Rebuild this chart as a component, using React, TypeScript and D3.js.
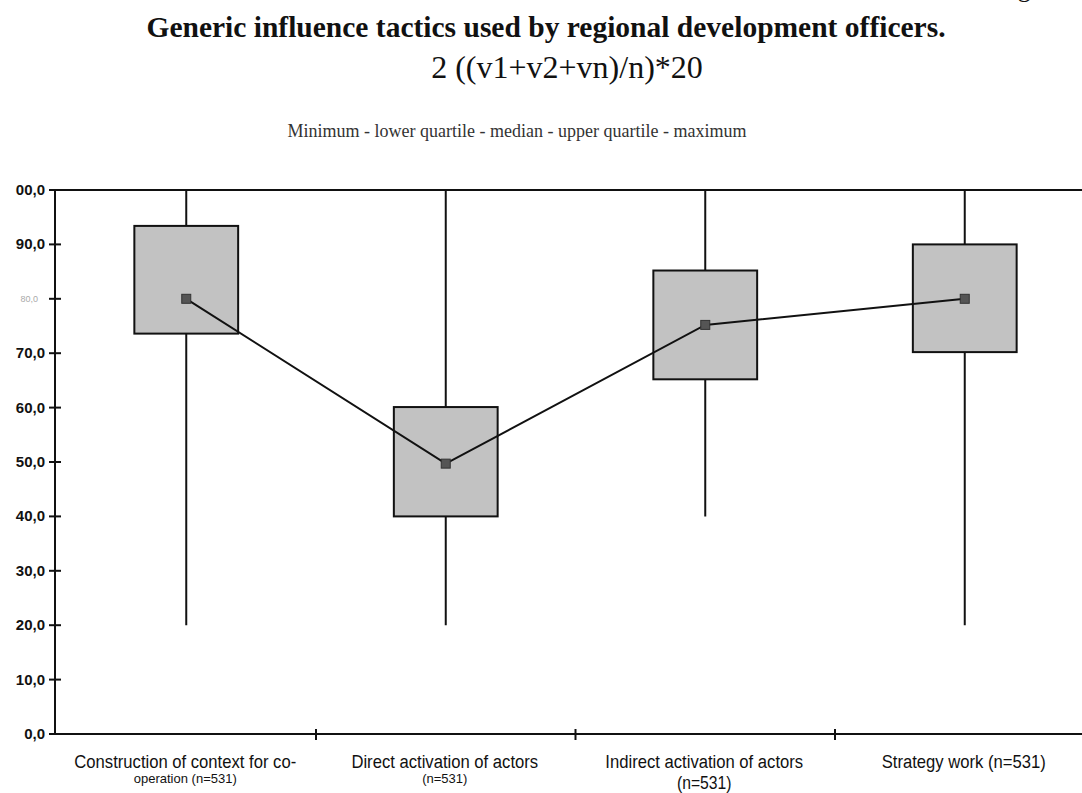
import React from "react";
import * as d3 from "d3";

const categories = ["c1", "c2", "c3", "c4"];
const labelLine1 = ["Construction of context for co-", "Direct activation of actors", "Indirect activation of actors", "Strategy work (n=531)"];
const labelLine2 = ["operation (n=531)", "(n=531)", "(n=531)", ""];
const labelLine2Big = [false, false, true, false];
const minValues = [20, 20, 40, 20];
const q1Values = [73.6, 40, 65.2, 70.2];
const medianValues = [80, 49.7, 75.2, 80];
const q3Values = [93.4, 60.1, 85.2, 90];
const maxValues = [100, 100, 100, 100];
const yTicks = [0, 10, 20, 30, 40, 50, 60, 70, 80, 90, 100];
const yTickLabels = ["0,0", "10,0", "20,0", "30,0", "40,0", "50,0", "60,0", "70,0", "80,0", "90,0", "00,0"];
const faintTick = [false, false, false, false, false, false, false, false, true, false, false];

const W = 1082;
const H = 793;

export default function App() {
  const x = d3.scaleBand<string>().domain(categories).range([56.5, 1094.5]).paddingInner(0).paddingOuter(0);
  const y = d3.scaleLinear().domain([0, 100]).range([734, 190]);
  const left = 55;
  const right = W;
  const boxW = x.bandwidth() * 0.4;
  const cx = (i: number) => (x(categories[i]) as number) + x.bandwidth() / 2;
  const line = d3.line<number>().x((_, i) => cx(i)).y((d) => y(d));
  const xTicks = categories.slice(1).map((c) => x(c) as number);
  const serif = "Liberation Serif, Times New Roman, serif";
  const sans = "Liberation Sans, Arial, sans-serif";

  return (
    <svg width={W} height={H} style={{ position: "absolute", left: 0, top: 0, background: "#fff" }}>
      <text x={1064} y={-3} fontFamily={serif} fontSize={26} textAnchor="end" fill="#111">Figure</text>
      <text x={546} y={37} textAnchor="middle" fontFamily={serif} fontWeight="bold" fontSize={29.5} fill="#111">
        Generic influence tactics used by regional development officers.
      </text>
      <text x={567} y={78} textAnchor="middle" fontFamily={serif} fontSize={32} fill="#111">
        2 ((v1+v2+vn)/n)*20
      </text>
      <text x={517} y={137} textAnchor="middle" fontFamily={serif} fontSize={18} fill="#333">
        Minimum - lower quartile - median - upper quartile - maximum
      </text>

      {/* frame */}
      <line x1={left} x2={right} y1={y(100)} y2={y(100)} stroke="#111" strokeWidth={2} />
      <line x1={left} x2={left} y1={y(100)} y2={y(0)} stroke="#111" strokeWidth={2} />
      <line x1={left} x2={right} y1={y(0)} y2={y(0)} stroke="#111" strokeWidth={2} />

      {yTicks.map((t, i) => (
        <g key={t}>
          <line x1={left - 6} x2={left + 6} y1={y(t)} y2={y(t)} stroke="#111" strokeWidth={2} />
          <text
            x={faintTick[i] ? 38 : 45}
            y={y(t) + 5}
            textAnchor="end"
            fontFamily={sans}
            fontWeight={faintTick[i] ? "normal" : "bold"}
            fontSize={faintTick[i] ? 9 : 15}
            fill={faintTick[i] ? "#aaa" : "#111"}
            dy={faintTick[i] ? -2 : 0}
          >
            {yTickLabels[i]}
          </text>
        </g>
      ))}
      {xTicks.map((t) => (
        <line key={t} x1={t} x2={t} y1={y(0) - 5} y2={y(0) + 6} stroke="#111" strokeWidth={2} />
      ))}

      {categories.map((c, i) => (
        <g key={c}>
          <line x1={cx(i)} x2={cx(i)} y1={y(minValues[i])} y2={y(maxValues[i])} stroke="#111" strokeWidth={2} />
          <rect
            x={cx(i) - boxW / 2}
            y={y(q3Values[i])}
            width={boxW}
            height={y(q1Values[i]) - y(q3Values[i])}
            fill="#c2c2c2"
            stroke="#111"
            strokeWidth={2}
          />
        </g>
      ))}

      <path d={line(medianValues) as string} fill="none" stroke="#111" strokeWidth={2} />
      {medianValues.map((m, i) => (
        <rect key={i} x={cx(i) - 4.5} y={y(m) - 4.5} width={9} height={9} fill="#555" stroke="#333" strokeWidth={1} />
      ))}

      {categories.map((c, i) => (
        <g key={"l" + c}>
          <g transform={`translate(${cx(i) - 1},768) scale(0.9,1)`}>
            <text textAnchor="middle" fontFamily={sans} fontSize={18.5} fill="#111">
              {labelLine1[i]}
            </text>
          </g>
          {labelLine2[i] && (
            <g transform={`translate(${cx(i) - 1},${labelLine2Big[i] ? 789 : 783}) scale(${labelLine2Big[i] ? 0.85 : 1},1)`}>
              <text textAnchor="middle" fontFamily={sans} fontSize={labelLine2Big[i] ? 18.5 : 13} fill="#111">
                {labelLine2[i]}
              </text>
            </g>
          )}
        </g>
      ))}
    </svg>
  );
}
